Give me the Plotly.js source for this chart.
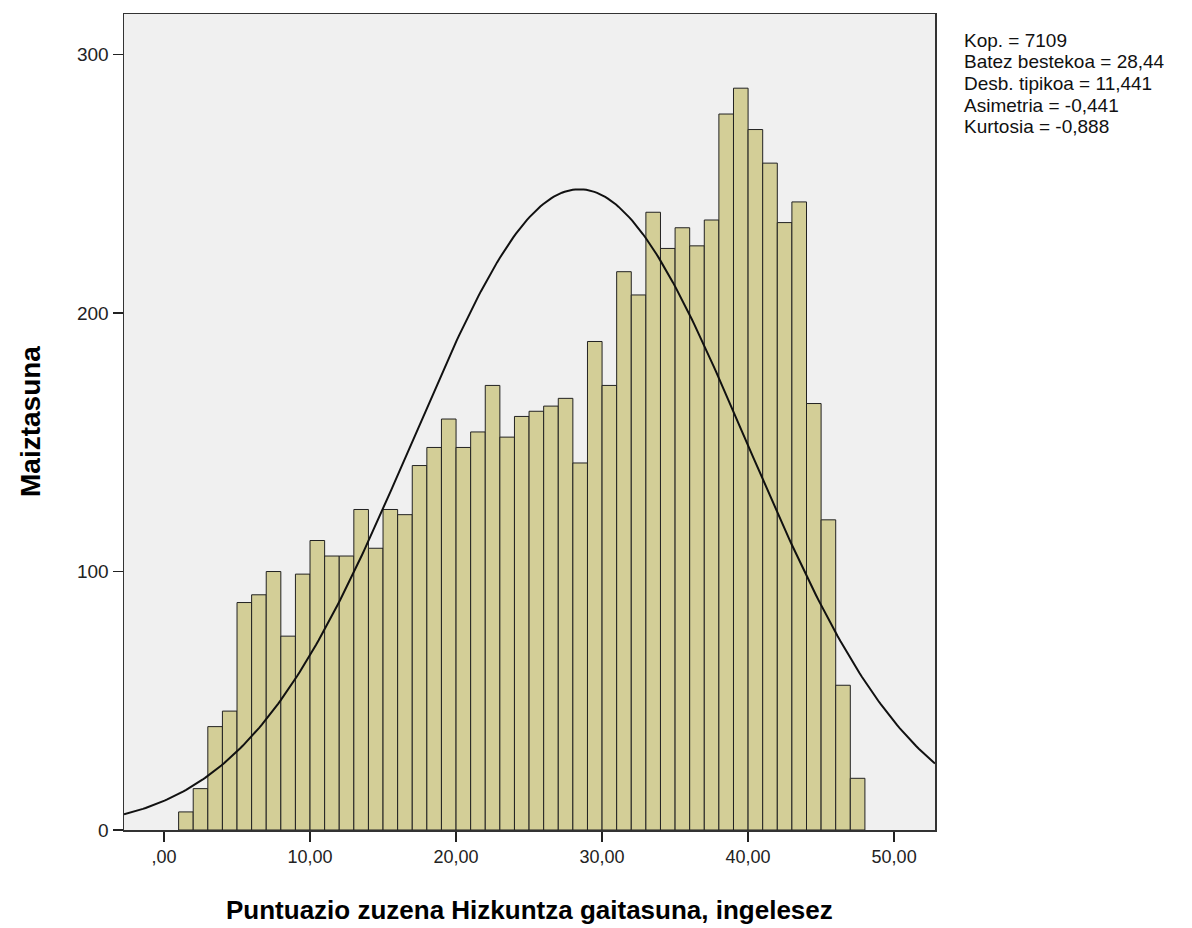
<!DOCTYPE html>
<html>
<head>
<meta charset="utf-8">
<script src="https://cdn.plot.ly/plotly-3.0.1.min.js"></script>
<style>html,body{margin:0;padding:0;background:#fff;}#chart{width:1192px;height:928px;}</style>
</head>
<body>
<div id="chart"></div>
<script>
// Bin lower edges (width 1) and frequencies
const binStarts = [1,2,3,4,5,6,7,8,9,10,11,12,13,14,15,16,17,18,19,20,21,22,23,24,25,26,27,28,29,30,31,32,33,34,35,36,37,38,39,40,41,42,43,44,45,46,47];
const counts = [7,16,40,46,88,91,100,75,99,112,106,106,124,109,124,122,141,148,159,148,154,172,152,160,162,164,167,142,189,172,216,207,239,225,233,226,236,277,287,271,258,235,243,165,120,56,20];
const binWidth = 1;

// Summary statistics shown on the chart (used for the fitted normal curve)
const N = 7109;
const mean = 28.44;
const sd = 11.441;
const statLines = ["Kop. = 7109", "Batez bestekoa = 28,44", "Desb. tipikoa = 11,441", "Asimetria = -0,441", "Kurtosia = -0,888"];

const xTitle = 'Puntuazio zuzena Hizkuntza gaitasuna, ingelesez';
const yTitle = 'Maiztasuna';
const xTickVals = [0,10,20,30,40,50];
const xTickText = [",00","10,00","20,00","30,00","40,00","50,00"];
const yTickVals = [0,100,200,300];

const xRange = [-2.74, 52.8];
const yRange = [0, 315.7];

// fitted normal curve from the stats
const cx = [], cy = [];
const steps = 300;
for (let i = 0; i <= steps; i++) {
  const x = xRange[0] + (xRange[1]-xRange[0])*i/steps;
  cx.push(x);
  cy.push(N*binWidth/(sd*Math.sqrt(2*Math.PI))*Math.exp(-0.5*Math.pow((x-mean)/sd,2)));
}

const bars = {
  type: 'bar',
  x: binStarts.map(b => b + binWidth/2),
  y: counts,
  width: binWidth,
  marker: {color: '#d3ce97', line: {color: '#222222', width: 1}},
  hoverinfo: 'skip'
};
const curve = {
  type: 'scatter', mode: 'lines', x: cx, y: cy,
  line: {color: '#111111', width: 2}, hoverinfo: 'skip'
};

const L = 124, R = 935, T = 14, B = 830;
const FONT = 'Liberation Sans, Arial, sans-serif';
const annotations = statLines.map((t, i) => ({
  text: t, xref: 'paper', yref: 'paper',
  x: (962 - L)/(R - L), y: (B - (40 + i*21.7))/(B - T),
  xanchor: 'left', yanchor: 'middle', showarrow: false, align: 'left',
  font: {family: FONT, size: 19, color: '#111'}
}));
annotations.push({
  text: xTitle, xref: 'paper', yref: 'paper', x: 0.5, y: (B - 910)/(B - T),
  xanchor: 'center', yanchor: 'middle', showarrow: false,
  font: {family: FONT, size: 26, color: '#000', weight: 'bold'}
});
annotations.push({
  text: yTitle, xref: 'paper', yref: 'paper', x: (30 - L)/(R - L), y: 0.5,
  xanchor: 'center', yanchor: 'middle', showarrow: false, textangle: -90,
  font: {family: FONT, size: 28, color: '#000', weight: 'bold'}
});

const layout = {
  width: 1192, height: 928,
  margin: {l: L, r: 1192 - R, t: T, b: 928 - B, pad: 0},
  paper_bgcolor: '#ffffff', plot_bgcolor: '#f0f0f0',
  showlegend: false,
  bargap: 0,
  xaxis: {
    range: xRange, tickvals: xTickVals, ticktext: xTickText,
    ticks: 'outside', ticklen: 10, tickwidth: 1.5, tickcolor: '#222',
    showline: true, linecolor: '#333', linewidth: 1.5, mirror: true,
    showgrid: false, zeroline: false,
    tickfont: {family: FONT, size: 18, color: '#222'}
  },
  yaxis: {
    range: yRange, tickvals: yTickVals,
    ticks: 'outside', ticklen: 10, tickwidth: 1.5, tickcolor: '#222',
    showline: true, linecolor: '#333', linewidth: 1.5, mirror: true,
    showgrid: false, zeroline: false,
    tickfont: {family: FONT, size: 19, color: '#222'}
  },
  annotations: annotations
};

Plotly.newPlot('chart', [bars, curve], layout, {displayModeBar: false, staticPlot: true});
</script>
</body>
</html>
